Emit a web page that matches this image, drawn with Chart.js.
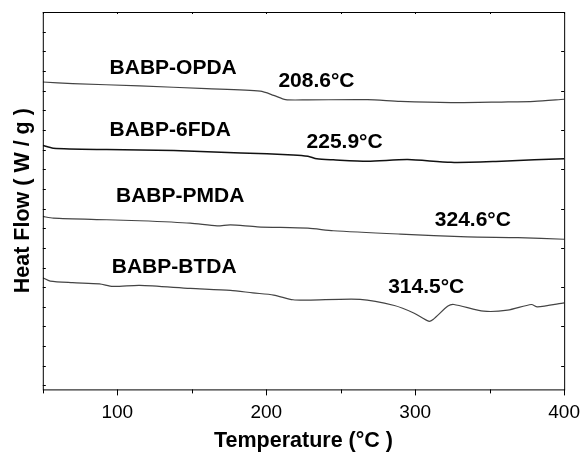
<!DOCTYPE html>
<html>
<head>
<meta charset="utf-8">
<script src="https://cdn.jsdelivr.net/npm/chart.js"></script>
<style>
  html, body { margin: 0; padding: 0; background: #fff; }
  #wrap { width: 584px; height: 454px; }
</style>
</head>
<body>
<div id="wrap"><canvas id="dsc"></canvas></div>
<script>
// DSC curves (Heat Flow in arbitrary stacked units)
const opdaT  = [50, 70, 115, 160, 196, 205, 213, 228, 268, 290, 324, 358, 380, 400];
const opdaHF = [15.44, 15.36, 15.24, 15.10, 14.97, 14.76, 14.54, 14.53, 14.54, 14.45, 14.39, 14.42, 14.45, 14.56];

const fdaT  = [50, 57, 93, 138, 183, 218, 228, 234, 245, 268, 295, 324, 358, 380, 400];
const fdaHF = [12.21, 12.07, 12.00, 11.95, 11.83, 11.73, 11.66, 11.53, 11.48, 11.41, 11.49, 11.35, 11.41, 11.48, 11.53];

const pmdaT  = [50, 57, 93, 115, 149, 167, 176, 194, 228, 245, 290, 335, 369, 400];
const pmdaHF = [8.60, 8.51, 8.43, 8.38, 8.26, 8.12, 8.17, 8.07, 8.00, 7.87, 7.70, 7.56, 7.52, 7.44];

const btdaT  = [50, 55, 70, 88, 97, 115, 149, 176, 191, 205, 218, 228, 263, 286, 299, 309, 312, 322, 326, 346, 362, 378, 382, 400];
const btdaHF = [5.48, 5.31, 5.23, 5.17, 5.04, 5.09, 4.94, 4.84, 4.71, 4.60, 4.36, 4.34, 4.38, 4.07, 3.69, 3.27, 3.36, 4.04, 4.12, 3.78, 3.83, 4.12, 4.00, 4.20];

// text labels placed in data coordinates
const noteText = ['BABP-OPDA', '208.6°C', 'BABP-6FDA', '225.9°C', 'BABP-PMDA', '324.6°C', 'BABP-BTDA', '314.5°C'];
const noteT    = [137.5, 233.7, 135.5, 252.6, 142.2, 338.7, 138.2, 307.4];
const noteHF   = [16.12, 15.48, 13.0, 12.38, 9.61, 8.43, 6.04, 5.02];

const xTicks = [100, 200, 300, 400];

const pairs = (xs, ys) => xs.map((x, i) => ({ x: x, y: ys[i] }));

const FONT = "'Liberation Sans', Arial, sans-serif";

const frame = {
  id: 'frame',
  afterDraw(chart) {
    const ctx = chart.ctx, a = chart.chartArea;
    const xs = chart.scales.x, ys = chart.scales.y;
    ctx.save();
    ctx.strokeStyle = '#000';
    ctx.lineWidth = 1;
    ctx.strokeRect(a.left + 0.5, a.top + 0.5, a.right - a.left, a.bottom - a.top);
    ctx.beginPath();
    for (let t = 50; t <= 400; t += 50) {
      const px = Math.round(xs.getPixelForValue(t)) + 0.5;
      const len = (t % 100 === 0) ? 6 : 4;
      ctx.moveTo(px, a.bottom); ctx.lineTo(px, a.bottom + len);
      ctx.moveTo(px, a.top); ctx.lineTo(px, a.top + 2);
    }
    for (let v = 0; v <= 19; v++) {
      const py = Math.round(ys.getPixelForValue(v)) + 0.5;
      ctx.moveTo(a.left, py); ctx.lineTo(a.left + 3, py);
      if ((19 - v) % 2 === 0) { ctx.moveTo(a.right, py); ctx.lineTo(a.right - 3, py); }
    }
    ctx.stroke();
    ctx.fillStyle = '#000';
    ctx.font = 'bold 21px ' + FONT;
    ctx.textAlign = 'center';
    ctx.textBaseline = 'middle';
    noteText.forEach((s, i) => {
      ctx.fillText(s, xs.getPixelForValue(noteT[i]), ys.getPixelForValue(noteHF[i]));
    });
    ctx.restore();
  }
};

const line = (label, xs, ys, color, w) => ({
  label: label,
  data: pairs(xs, ys),
  borderColor: color,
  borderWidth: w,
  pointRadius: 0,
  tension: 0.25,
  fill: false
});

new Chart(document.getElementById('dsc'), {
  type: 'line',
  data: {
    datasets: [
      line('BABP-OPDA', opdaT, opdaHF, '#444', 1.2),
      line('BABP-6FDA', fdaT, fdaHF, '#111', 1.5),
      line('BABP-PMDA', pmdaT, pmdaHF, '#444', 1.2),
      line('BABP-BTDA', btdaT, btdaHF, '#444', 1.2)
    ]
  },
  options: {
    responsive: true,
    maintainAspectRatio: false,
    animation: false,
    layout: { padding: { left: 10, right: 15, top: 12, bottom: 0 } },
    plugins: { legend: { display: false }, tooltip: { enabled: false } },
    scales: {
      x: {
        type: 'linear',
        min: 50, max: 400,
        afterBuildTicks: s => { s.ticks = xTicks.map(v => ({ value: v })); },
        grid: { display: false },
        border: { display: false },
        ticks: { color: '#000', padding: 4, maxRotation: 0, font: { family: FONT, size: 19 } },
        title: {
          display: true, text: 'Temperature (°C )', color: '#000',
          padding: { top: 0, bottom: 0 },
          font: { family: FONT, size: 21.5, weight: 'bold' }
        }
      },
      y: {
        min: -0.2, max: 19,
        grid: { display: false },
        border: { display: false },
        ticks: { display: false },
        title: {
          display: true, text: 'Heat Flow ( W / g )', color: '#000',
          padding: { top: 0, bottom: -1 },
          font: { family: FONT, size: 21.5, weight: 'bold' }
        }
      }
    }
  },
  plugins: [frame]
});
</script>
</body>
</html>
